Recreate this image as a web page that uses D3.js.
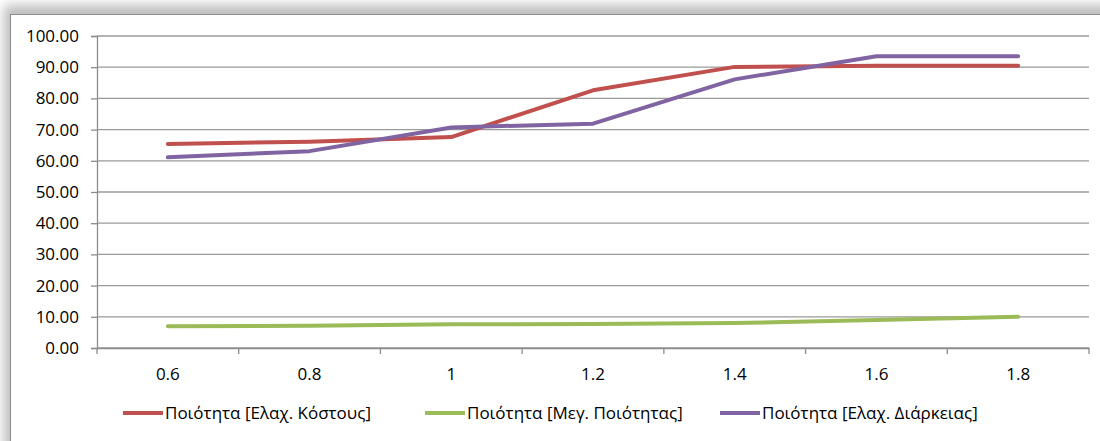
<!DOCTYPE html>
<html><head><meta charset="utf-8">
<script src="https://cdn.jsdelivr.net/npm/d3@7"></script>
<style>body{margin:0;background:#fff;} svg{display:block;}</style>
</head><body>
<svg id="c" width="1100" height="441"></svg>
<script>
const categories = ["0.6","0.8","1","1.2","1.4","1.6","1.8"];
const seriesNames = ["Ποιότητα [Ελαχ. Κόστους]","Ποιότητα [Μεγ. Ποιότητας]","Ποιότητα [Ελαχ. Διάρκειας]"];
const costValues = [65.4, 66.1, 67.6, 82.6, 90.1, 90.5, 90.5];
const qualityValues = [7.0, 7.1, 7.6, 7.7, 8.0, 9.0, 10.0];
const durationValues = [61.1, 63.1, 70.7, 71.9, 86.1, 93.5, 93.5];
const yTicks = [0,10,20,30,40,50,60,70,80,90,100];
const colors = ["#c0504d","#9bbb59","#8064a2"];

const svg = d3.select("#c");
const defs = svg.append("defs");
const f = defs.append("filter").attr("id","sh").attr("x","-5%").attr("y","-20%").attr("width","110%").attr("height","140%");
f.append("feGaussianBlur").attr("stdDeviation",6);

// shadow + frame
svg.append("rect").attr("x",4).attr("y",5).attr("width",1130).attr("height",470).attr("fill","#bdbdbd").attr("filter","url(#sh)");
svg.append("rect").attr("x",10.5).attr("y",14.5).attr("width",1120).attr("height",460).attr("fill","#fff").attr("stroke","#8c8c8c").attr("stroke-width",1);

const L=97, R=1089, T=36, B=348;
const x = d3.scaleBand().domain(categories).range([L,R]);
const y = d3.scaleLinear().domain([0,100]).range([B,T]);

// gridlines
svg.append("g").selectAll("line").data(yTicks).join("line")
  .attr("x1",L).attr("x2",R).attr("y1",d=>y(d)).attr("y2",d=>y(d))
  .attr("stroke","#9a9a9a").attr("stroke-width",1.3);

// y axis
const ya = svg.append("g").attr("transform",`translate(${L},0)`)
  .call(d3.axisLeft(y).tickValues(yTicks).tickFormat(d3.format(".2f")).tickSize(6).tickPadding(12));
ya.select(".domain").attr("stroke","#8c8c8c").attr("stroke-width",1.3);
ya.selectAll(".tick line").attr("stroke","#8c8c8c").attr("stroke-width",1.3);
ya.selectAll("text").attr("font-family","'Open Sans', sans-serif").attr("font-size",17).attr("fill","#000");

// x axis
const xa = svg.append("g").attr("transform",`translate(0,${B})`)
  .call(d3.axisBottom(x).tickSize(0).tickPadding(20));
xa.select(".domain").attr("stroke","#8c8c8c").attr("stroke-width",1.3);
xa.selectAll("text").attr("font-family","'Open Sans', sans-serif").attr("font-size",17).attr("fill","#000");
const bounds = categories.map(c=>x(c)).concat([R]);
svg.append("g").selectAll("line").data(bounds).join("line")
  .attr("x1",d=>d).attr("x2",d=>d).attr("y1",B).attr("y2",B+6)
  .attr("stroke","#8c8c8c").attr("stroke-width",1.3);

// lines
const series = [costValues, qualityValues, durationValues];
const line = d3.line().x((d,i)=>x(categories[i])+x.bandwidth()/2).y(d=>y(d));
[1,0,2].forEach(k=>{
  svg.append("path").datum(series[k]).attr("d",line).attr("fill","none")
    .attr("stroke",colors[k]).attr("stroke-width",4).attr("stroke-linejoin","round").attr("stroke-linecap","round");
});

// legend
const legX = [123, 425, 720];
const lg = svg.append("g");
seriesNames.forEach((n,i)=>{
  lg.append("line").attr("x1",legX[i]).attr("x2",legX[i]+40).attr("y1",413).attr("y2",413)
    .attr("stroke",colors[i]).attr("stroke-width",4);
  lg.append("text").attr("x",legX[i]+42).attr("y",419).text(n)
    .attr("font-family","'Open Sans', sans-serif").attr("font-size",17).attr("fill","#000");
});
</script>
</body></html>
